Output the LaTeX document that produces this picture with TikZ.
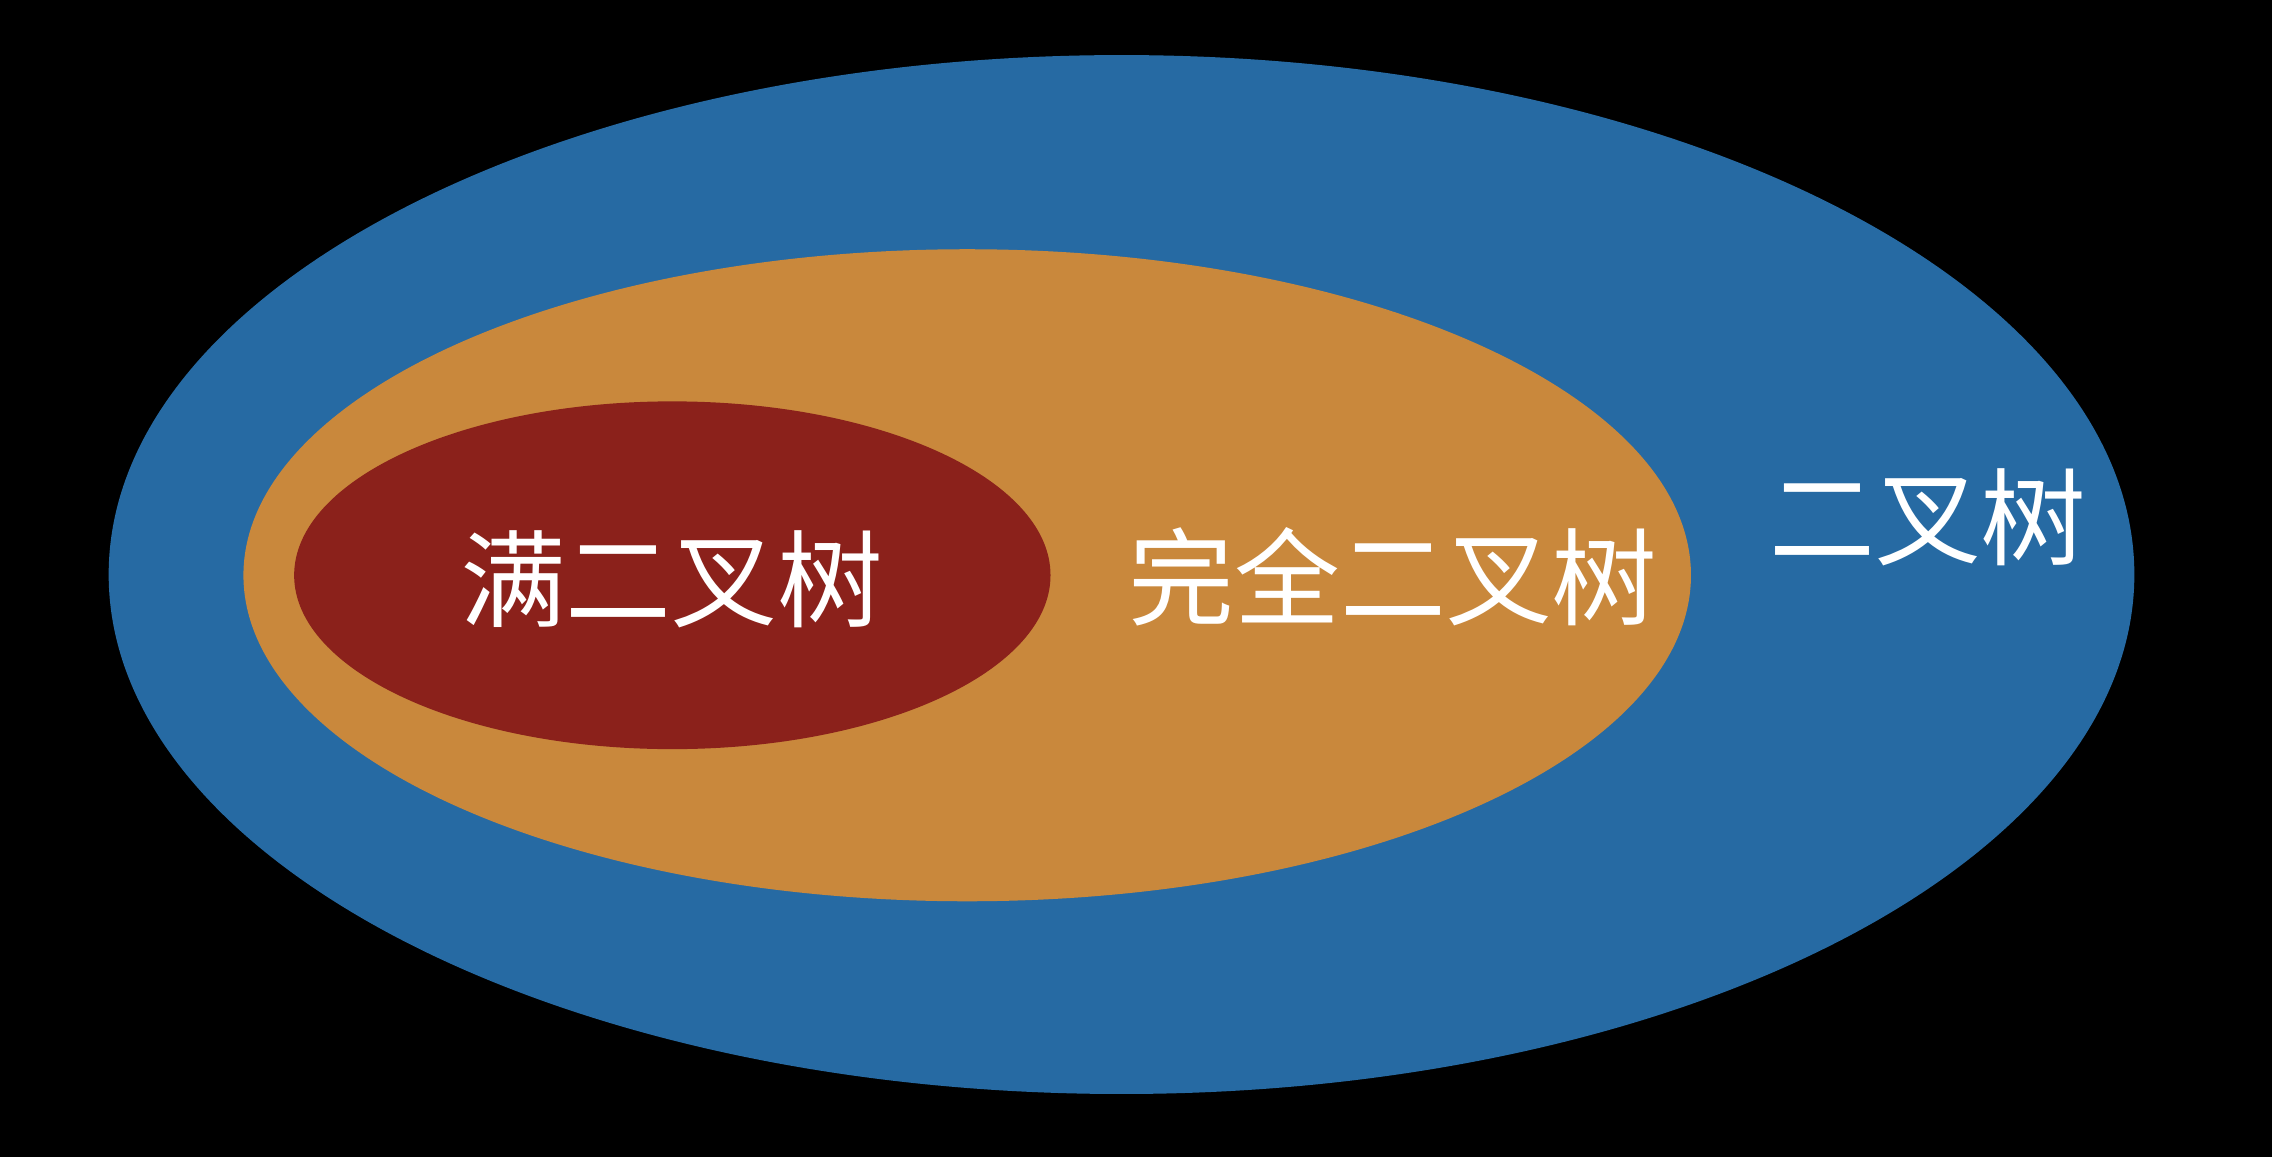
\documentclass[tikz,border=0pt]{standalone}
\usepackage{fontspec}
\newfontfamily\cjk{Noto Sans CJK SC}
\newlength{\du}
\setlength{\du}{0.5pt}
\begin{document}
\begin{tikzpicture}
\pgftransformxscale{1.000000}
\pgftransformyscale{-1.000000}
\useasboundingbox (0\du,0\du) rectangle (1568\du,798\du);
\definecolor{dialinecolor}{rgb}{0.000000, 0.000000, 0.000000}
\pgfsetfillcolor{dialinecolor}
\pgfpathrectangle{\pgfpoint{-4.000000\du}{-4.000000\du}}{\pgfpoint{1576.000000\du}{806.000000\du}}
\pgfusepath{fill}
\pgfsetlinewidth{0.000000\du}
{
\definecolor{dialinecolor}{rgb}{0.149000, 0.415000, 0.640000}
\pgfsetfillcolor{dialinecolor}
\pgfpathellipse{\pgfpoint{774.000000\du}{396.500000\du}}{\pgfpoint{699.000000\du}{0\du}}{\pgfpoint{0\du}{358.500000\du}}
\pgfusepath{fill}
}
{
\definecolor{dialinecolor}{rgb}{0.788000, 0.533000, 0.235000}
\pgfsetfillcolor{dialinecolor}
\pgfpathellipse{\pgfpoint{667.500000\du}{397.000000\du}}{\pgfpoint{499.500000\du}{0\du}}{\pgfpoint{0\du}{225.000000\du}}
\pgfusepath{fill}
}
{
\definecolor{dialinecolor}{rgb}{0.545000, 0.129000, 0.106000}
\pgfsetfillcolor{dialinecolor}
\pgfpathellipse{\pgfpoint{464.000000\du}{397.000000\du}}{\pgfpoint{261.000000\du}{0\du}}{\pgfpoint{0\du}{120.000000\du}}
\pgfusepath{fill}
}
% setfont left to latex
\definecolor{dialinecolor}{rgb}{1.000000, 1.000000, 1.000000}
\pgfsetstrokecolor{dialinecolor}
\node[text=dialinecolor, font=\cjk\fontsize{36.5}{44}\selectfont] (full) at (463.500000\du,400.000000\du){满二叉树};
% setfont left to latex
\node[text=dialinecolor, font=\cjk\fontsize{36.5}{44}\selectfont] (complete) at (961.500000\du,398.000000\du){完全二叉树};
% setfont left to latex
\node[text=dialinecolor, font=\cjk\fontsize{36.5}{44}\selectfont] (binary) at (1330.500000\du,357.000000\du){二叉树};
\end{tikzpicture}
\end{document}
